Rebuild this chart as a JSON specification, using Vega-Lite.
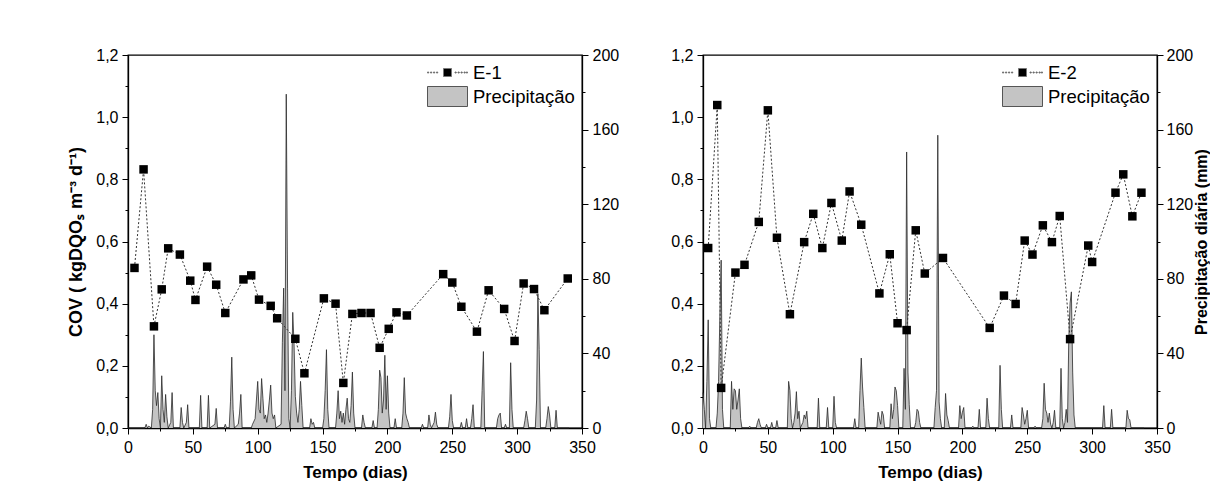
{
  "$schema": "https://vega.github.io/schema/vega-lite/v6.json",
  "background": "white",
  "padding": {"left": 67, "top": 46, "right": 0, "bottom": 0},
  "config": {
    "font": "Liberation Sans",
    "view": {"stroke": "black", "strokeWidth": 1.3},
    "axis": {"labelFont": "Liberation Sans", "labelFontSize": 16, "labelColor": "black", "titleFont": "Liberation Sans", "titleFontSize": 17, "titleFontWeight": "bold", "titleColor": "black", "domainColor": "black", "domainWidth": 1.3, "tickColor": "black", "tickWidth": 1, "grid": false, "labelOverlap": false, "labelFlush": false},
    "legend": {"labelFont": "Liberation Sans", "labelFontSize": 18.5, "labelColor": "black", "symbolSize": 400, "labelOffset": 25, "orient": "top-right", "offset": 7, "padding": 0, "rowPadding": 2, "symbolStrokeWidth": 1}
  },
  "datasets": {
    "covA": [
      {"day":5,"cov":0.515,"serie":"E-1"},{"day":12,"cov":0.832,"serie":"E-1"},{"day":20,"cov":0.327,"serie":"E-1"},{"day":26,"cov":0.446,"serie":"E-1"},{"day":31,"cov":0.578,"serie":"E-1"},{"day":40,"cov":0.558,"serie":"E-1"},{"day":48,"cov":0.474,"serie":"E-1"},{"day":52,"cov":0.412,"serie":"E-1"},{"day":61,"cov":0.519,"serie":"E-1"},{"day":68,"cov":0.461,"serie":"E-1"},{"day":75,"cov":0.370,"serie":"E-1"},{"day":89,"cov":0.478,"serie":"E-1"},{"day":95,"cov":0.491,"serie":"E-1"},{"day":101,"cov":0.413,"serie":"E-1"},{"day":110,"cov":0.393,"serie":"E-1"},{"day":115,"cov":0.353,"serie":"E-1"},{"day":129,"cov":0.287,"serie":"E-1"},{"day":136,"cov":0.176,"serie":"E-1"},{"day":151,"cov":0.417,"serie":"E-1"},{"day":160,"cov":0.400,"serie":"E-1"},{"day":166,"cov":0.145,"serie":"E-1"},{"day":173,"cov":0.367,"serie":"E-1"},{"day":180,"cov":0.370,"serie":"E-1"},{"day":187,"cov":0.370,"serie":"E-1"},{"day":194,"cov":0.258,"serie":"E-1"},{"day":201,"cov":0.319,"serie":"E-1"},{"day":207,"cov":0.372,"serie":"E-1"},{"day":215,"cov":0.362,"serie":"E-1"},{"day":243,"cov":0.495,"serie":"E-1"},{"day":250,"cov":0.468,"serie":"E-1"},{"day":257,"cov":0.390,"serie":"E-1"},{"day":269,"cov":0.310,"serie":"E-1"},{"day":278,"cov":0.443,"serie":"E-1"},{"day":290,"cov":0.383,"serie":"E-1"},{"day":298,"cov":0.280,"serie":"E-1"},{"day":305,"cov":0.465,"serie":"E-1"},{"day":313,"cov":0.447,"serie":"E-1"},{"day":321,"cov":0.379,"serie":"E-1"},{"day":339,"cov":0.481,"serie":"E-1"}
    ],
    "covB": [
      {"day":4,"cov":0.579,"serie":"E-2"},{"day":11,"cov":1.039,"serie":"E-2"},{"day":14,"cov":0.129,"serie":"E-2"},{"day":25,"cov":0.500,"serie":"E-2"},{"day":32,"cov":0.525,"serie":"E-2"},{"day":43,"cov":0.663,"serie":"E-2"},{"day":50,"cov":1.022,"serie":"E-2"},{"day":57,"cov":0.612,"serie":"E-2"},{"day":67,"cov":0.366,"serie":"E-2"},{"day":78,"cov":0.598,"serie":"E-2"},{"day":85,"cov":0.689,"serie":"E-2"},{"day":92,"cov":0.579,"serie":"E-2"},{"day":99,"cov":0.724,"serie":"E-2"},{"day":107,"cov":0.603,"serie":"E-2"},{"day":113,"cov":0.761,"serie":"E-2"},{"day":122,"cov":0.654,"serie":"E-2"},{"day":136,"cov":0.433,"serie":"E-2"},{"day":144,"cov":0.559,"serie":"E-2"},{"day":150,"cov":0.337,"serie":"E-2"},{"day":157,"cov":0.315,"serie":"E-2"},{"day":164,"cov":0.636,"serie":"E-2"},{"day":171,"cov":0.497,"serie":"E-2"},{"day":185,"cov":0.547,"serie":"E-2"},{"day":221,"cov":0.322,"serie":"E-2"},{"day":232,"cov":0.426,"serie":"E-2"},{"day":241,"cov":0.399,"serie":"E-2"},{"day":248,"cov":0.603,"serie":"E-2"},{"day":254,"cov":0.558,"serie":"E-2"},{"day":262,"cov":0.652,"serie":"E-2"},{"day":269,"cov":0.598,"serie":"E-2"},{"day":275,"cov":0.682,"serie":"E-2"},{"day":283,"cov":0.286,"serie":"E-2"},{"day":297,"cov":0.587,"serie":"E-2"},{"day":300,"cov":0.534,"serie":"E-2"},{"day":318,"cov":0.757,"serie":"E-2"},{"day":324,"cov":0.816,"serie":"E-2"},{"day":331,"cov":0.681,"serie":"E-2"},{"day":338,"cov":0.757,"serie":"E-2"}
    ],
    "precA": [
      {"day":0,"mm":0},{"day":13,"mm":0},{"day":14,"mm":2},{"day":15,"mm":0},{"day":16,"mm":1},{"day":18,"mm":0},{"day":19,"mm":10},{"day":20,"mm":50},{"day":21,"mm":20},{"day":22,"mm":12},{"day":23,"mm":19},{"day":24,"mm":5},{"day":25,"mm":0},{"day":26,"mm":28},{"day":27,"mm":10},{"day":28,"mm":3},{"day":29,"mm":18},{"day":30,"mm":6},{"day":31,"mm":0},{"day":33,"mm":3},{"day":34,"mm":19},{"day":35,"mm":0},{"day":40,"mm":0},{"day":41,"mm":11},{"day":42,"mm":3},{"day":43,"mm":0},{"day":45,"mm":3},{"day":46,"mm":12.5},{"day":47,"mm":0},{"day":55,"mm":0},{"day":56,"mm":17.5},{"day":57,"mm":0},{"day":61,"mm":0},{"day":62,"mm":17.5},{"day":63,"mm":0},{"day":67,"mm":2},{"day":68,"mm":10.5},{"day":69,"mm":0},{"day":74,"mm":0},{"day":75,"mm":2},{"day":76,"mm":0},{"day":78,"mm":0},{"day":79,"mm":14},{"day":80,"mm":38},{"day":81,"mm":10},{"day":82,"mm":0},{"day":85,"mm":2},{"day":86,"mm":8},{"day":87,"mm":18},{"day":88,"mm":0},{"day":95,"mm":0},{"day":96,"mm":2},{"day":98,"mm":5},{"day":99,"mm":15},{"day":100,"mm":25},{"day":101,"mm":10},{"day":102,"mm":8},{"day":103,"mm":26.5},{"day":104,"mm":16},{"day":105,"mm":5},{"day":106,"mm":7},{"day":107,"mm":3},{"day":108,"mm":8},{"day":109,"mm":15},{"day":110,"mm":23},{"day":111,"mm":8},{"day":112,"mm":5},{"day":113,"mm":7},{"day":114,"mm":0},{"day":118,"mm":2},{"day":119,"mm":46},{"day":120,"mm":75},{"day":121,"mm":20},{"day":122,"mm":179},{"day":123,"mm":75},{"day":124,"mm":5},{"day":125,"mm":0},{"day":126,"mm":20},{"day":127,"mm":62},{"day":128,"mm":45},{"day":129,"mm":17},{"day":130,"mm":8},{"day":131,"mm":3},{"day":132,"mm":10},{"day":133,"mm":25},{"day":134,"mm":12},{"day":135,"mm":0},{"day":140,"mm":0},{"day":141,"mm":5},{"day":142,"mm":2},{"day":143,"mm":3},{"day":144,"mm":0},{"day":150,"mm":0},{"day":151,"mm":5},{"day":152,"mm":20},{"day":153,"mm":42},{"day":154,"mm":10},{"day":155,"mm":0},{"day":160,"mm":0},{"day":161,"mm":8},{"day":162,"mm":20},{"day":163,"mm":5},{"day":164,"mm":9},{"day":165,"mm":3},{"day":166,"mm":8},{"day":167,"mm":2},{"day":168,"mm":10},{"day":169,"mm":16},{"day":170,"mm":5},{"day":171,"mm":3},{"day":172,"mm":12},{"day":173,"mm":30},{"day":174,"mm":8},{"day":175,"mm":0},{"day":180,"mm":0},{"day":181,"mm":7},{"day":182,"mm":3},{"day":183,"mm":0},{"day":188,"mm":0},{"day":189,"mm":4},{"day":190,"mm":0},{"day":192,"mm":0},{"day":193,"mm":10},{"day":194,"mm":31},{"day":195,"mm":27},{"day":196,"mm":8},{"day":197,"mm":15},{"day":198,"mm":39},{"day":199,"mm":10},{"day":200,"mm":28},{"day":201,"mm":8},{"day":202,"mm":0},{"day":205,"mm":0},{"day":206,"mm":5},{"day":207,"mm":0},{"day":211,"mm":0},{"day":212,"mm":8},{"day":213,"mm":27},{"day":214,"mm":8},{"day":215,"mm":5},{"day":216,"mm":3},{"day":217,"mm":0},{"day":226,"mm":0},{"day":227,"mm":2},{"day":228,"mm":0},{"day":231,"mm":0},{"day":232,"mm":7},{"day":233,"mm":2},{"day":234,"mm":0},{"day":236,"mm":3},{"day":237,"mm":8.5},{"day":238,"mm":2},{"day":239,"mm":0},{"day":247,"mm":0},{"day":248,"mm":6},{"day":249,"mm":18},{"day":250,"mm":4},{"day":251,"mm":0},{"day":256,"mm":0},{"day":257,"mm":3},{"day":258,"mm":0},{"day":260,"mm":0},{"day":261,"mm":5},{"day":262,"mm":0},{"day":264,"mm":0},{"day":265,"mm":5},{"day":266,"mm":12.5},{"day":267,"mm":0},{"day":272,"mm":0},{"day":273,"mm":20},{"day":274,"mm":41},{"day":275,"mm":0},{"day":284,"mm":0},{"day":285,"mm":5},{"day":286,"mm":7},{"day":287,"mm":8},{"day":288,"mm":0},{"day":290,"mm":0},{"day":291,"mm":2},{"day":292,"mm":0},{"day":294,"mm":0},{"day":295,"mm":35},{"day":296,"mm":10},{"day":297,"mm":0},{"day":305,"mm":0},{"day":306,"mm":4},{"day":307,"mm":9},{"day":308,"mm":5},{"day":309,"mm":0},{"day":314,"mm":0},{"day":315,"mm":15},{"day":316,"mm":72},{"day":317,"mm":42},{"day":318,"mm":0},{"day":322,"mm":0},{"day":323,"mm":5},{"day":324,"mm":11.5},{"day":325,"mm":7},{"day":326,"mm":0},{"day":329,"mm":0},{"day":330,"mm":9.5},{"day":331,"mm":0},{"day":340,"mm":0}
    ],
    "precB": [
      {"day":0,"mm":19},{"day":1,"mm":10},{"day":2,"mm":0},{"day":3,"mm":25},{"day":4,"mm":58},{"day":5,"mm":5},{"day":6,"mm":0},{"day":10,"mm":0},{"day":11,"mm":8},{"day":12,"mm":25},{"day":13,"mm":60},{"day":14,"mm":90},{"day":15,"mm":10},{"day":16,"mm":0},{"day":21,"mm":0},{"day":22,"mm":25},{"day":23,"mm":10},{"day":24,"mm":21},{"day":25,"mm":20},{"day":26,"mm":10},{"day":27,"mm":15},{"day":28,"mm":21},{"day":29,"mm":5},{"day":30,"mm":0},{"day":35,"mm":0},{"day":36,"mm":1},{"day":37,"mm":0},{"day":41,"mm":0},{"day":42,"mm":3},{"day":43,"mm":5},{"day":44,"mm":2},{"day":45,"mm":0},{"day":48,"mm":0},{"day":49,"mm":2},{"day":50,"mm":0},{"day":52,"mm":0},{"day":53,"mm":3},{"day":54,"mm":0},{"day":56,"mm":0},{"day":57,"mm":4},{"day":58,"mm":0},{"day":65,"mm":0},{"day":66,"mm":25},{"day":67,"mm":20},{"day":68,"mm":5},{"day":69,"mm":0},{"day":70,"mm":3},{"day":71,"mm":8},{"day":72,"mm":19.5},{"day":73,"mm":5},{"day":74,"mm":9},{"day":75,"mm":0},{"day":77,"mm":3},{"day":78,"mm":7},{"day":79,"mm":5},{"day":80,"mm":9},{"day":81,"mm":0},{"day":88,"mm":0},{"day":89,"mm":16},{"day":90,"mm":0},{"day":95,"mm":0},{"day":96,"mm":11},{"day":97,"mm":0},{"day":100,"mm":0},{"day":101,"mm":17},{"day":102,"mm":3},{"day":103,"mm":0},{"day":116,"mm":0},{"day":117,"mm":5},{"day":118,"mm":0},{"day":120,"mm":0},{"day":121,"mm":20},{"day":122,"mm":37.5},{"day":123,"mm":22},{"day":124,"mm":11},{"day":125,"mm":0},{"day":134,"mm":0},{"day":135,"mm":8.5},{"day":136,"mm":5},{"day":137,"mm":2},{"day":138,"mm":9},{"day":139,"mm":7},{"day":140,"mm":0},{"day":144,"mm":0},{"day":145,"mm":13},{"day":146,"mm":5},{"day":147,"mm":10},{"day":148,"mm":22},{"day":149,"mm":20},{"day":150,"mm":12},{"day":151,"mm":0},{"day":154,"mm":0},{"day":155,"mm":32},{"day":156,"mm":10},{"day":157,"mm":148},{"day":158,"mm":30},{"day":159,"mm":12.5},{"day":160,"mm":0},{"day":163,"mm":0},{"day":164,"mm":3},{"day":165,"mm":10},{"day":166,"mm":9},{"day":167,"mm":3},{"day":168,"mm":0},{"day":178,"mm":0},{"day":179,"mm":11},{"day":180,"mm":20},{"day":181,"mm":157},{"day":182,"mm":14},{"day":183,"mm":5},{"day":184,"mm":0},{"day":186,"mm":0},{"day":187,"mm":18.5},{"day":188,"mm":7},{"day":189,"mm":4},{"day":190,"mm":0},{"day":197,"mm":0},{"day":198,"mm":12},{"day":199,"mm":5},{"day":200,"mm":8.5},{"day":201,"mm":11},{"day":202,"mm":0},{"day":207,"mm":0},{"day":208,"mm":1},{"day":209,"mm":0},{"day":212,"mm":0},{"day":213,"mm":10},{"day":214,"mm":0},{"day":218,"mm":0},{"day":219,"mm":16},{"day":220,"mm":5},{"day":221,"mm":0},{"day":228,"mm":0},{"day":229,"mm":33.6},{"day":230,"mm":10},{"day":231,"mm":0},{"day":237,"mm":0},{"day":238,"mm":7},{"day":239,"mm":0},{"day":245,"mm":0},{"day":246,"mm":11},{"day":247,"mm":7},{"day":248,"mm":2},{"day":249,"mm":5},{"day":250,"mm":9.5},{"day":251,"mm":0},{"day":255,"mm":0},{"day":256,"mm":1},{"day":257,"mm":0},{"day":261,"mm":0},{"day":262,"mm":5},{"day":263,"mm":24},{"day":264,"mm":10},{"day":265,"mm":8},{"day":266,"mm":3},{"day":267,"mm":8},{"day":268,"mm":2},{"day":269,"mm":0},{"day":270,"mm":3},{"day":271,"mm":9.5},{"day":272,"mm":0},{"day":275,"mm":0},{"day":276,"mm":32},{"day":277,"mm":5},{"day":278,"mm":0},{"day":279,"mm":3},{"day":280,"mm":10},{"day":281,"mm":3},{"day":282,"mm":48},{"day":283,"mm":67},{"day":284,"mm":73},{"day":285,"mm":30},{"day":286,"mm":7},{"day":287,"mm":0},{"day":308,"mm":0},{"day":309,"mm":12},{"day":310,"mm":0},{"day":314,"mm":0},{"day":315,"mm":10},{"day":316,"mm":0},{"day":326,"mm":0},{"day":327,"mm":9.5},{"day":328,"mm":5},{"day":329,"mm":4.5},{"day":330,"mm":0},{"day":340,"mm":0}
    ]
  },
  "hconcat": [
    {
      "width": 454, "height": 373,
      "encoding": {"x": {"field": "day", "type": "quantitative", "scale": {"domain": [0, 350], "nice": false}, "axis": {"title": "Tempo (dias)", "values": [0,25,50,75,100,125,150,175,200,225,250,275,300,325,350], "labelExpr": "datum.value % 50 === 0 ? datum.label : ''", "tickSize": {"condition": {"test": "datum.value % 50 === 0", "value": 6}, "value": 3}, "labelPadding": 5, "titlePadding": 9}}},
      "layer": [
        {"data": {"name": "precA"}, "mark": {"type": "area", "color": "#c4c4c4", "opacity": 1},
         "encoding": {"y": {"field": "mm", "type": "quantitative", "scale": {"domain": [0, 200], "nice": false}, "axis": {"orient": "right", "title": null, "values": [0,20,40,60,80,100,120,140,160,180,200], "labelExpr": "datum.value % 40 === 0 ? datum.label : ''", "tickSize": {"condition": {"test": "datum.value % 40 === 0", "value": 6}, "value": 3}, "labelPadding": 4}}}},
        {"data": {"name": "precA"}, "mark": {"type": "line", "color": "#2a2a2a", "strokeWidth": 0.8},
         "encoding": {"y": {"field": "mm", "type": "quantitative", "scale": {"domain": [0, 200], "nice": false}, "axis": null}}},
        {"data": {"name": "covA"}, "mark": {"type": "line", "color": "#333", "strokeDash": [2, 2], "strokeWidth": 1},
         "encoding": {"y": {"field": "cov", "type": "quantitative", "scale": {"domain": [0, 1.2], "nice": false}, "axis": {"orient": "left", "title": "COV ( kgDQOₛ m⁻³ d⁻¹)", "titleFontSize": 18, "values": [0,0.1,0.2,0.3,0.4,0.5,0.6,0.7,0.8,0.9,1.0,1.1,1.2], "labelExpr": "round(datum.value*10) % 2 === 0 ? replace(format(datum.value,'.1f'),'.',',') : ''", "tickSize": {"condition": {"test": "round(datum.value*10) % 2 === 0", "value": 6}, "value": 3}, "labelPadding": 4, "titlePadding": 10}}}},
        {"data": {"name": "covA"}, "mark": {"type": "point", "shape": "square", "filled": true, "color": "black", "size": 72, "opacity": 1},
         "encoding": {"y": {"field": "cov", "type": "quantitative", "scale": {"domain": [0, 1.2], "nice": false}, "axis": null}}},
        {"data": {"name": "covA"}, "mark": {"type": "point", "filled": true, "size": 0, "strokeWidth": 0, "opacity": 1},
         "encoding": {
           "y": {"field": "cov", "type": "quantitative", "scale": {"domain": [0, 1.2], "nice": false}, "axis": null},
           "fill": {"field": "serie", "type": "nominal", "scale": {"domain": ["E-1", "Precipitação"], "range": ["black", "#c4c4c4"]}, "legend": {"title": null}},
           "stroke": {"field": "serie", "type": "nominal", "scale": {"domain": ["E-1", "Precipitação"], "range": ["#777", "#555"]}, "legend": {"title": null}},
           "shape": {"field": "serie", "type": "nominal", "scale": {"domain": ["E-1", "Precipitação"], "range": ["M-1,-0.05h0.12v0.1h-0.12Z M-0.7,-0.05h0.12v0.1h-0.12Z M-0.4,-0.05h0.12v0.1h-0.12Z M-0.1,-0.05h0.12v0.1h-0.12Z M0.6,-0.4H1.4V0.4H0.6Z M1.75,-0.05h0.12v0.1h-0.12Z M2.05,-0.05h0.12v0.1h-0.12Z M2.35,-0.05h0.12v0.1h-0.12Z M2.65,-0.05h0.12v0.1h-0.12Z M2.88,-0.05h0.12v0.1h-0.12Z", "M-1,-1H3V1H-1Z"]}, "legend": {"title": null}}
         }},
        {"data": {"values": [{"t": "a"}]}, "mark": {"type": "text", "fontWeight": "bold", "fontSize": 17, "align": "left", "baseline": "middle", "color": "black"},
         "encoding": {"x": {"datum": 3.5, "type": "quantitative"}, "y": {"datum": 1.168, "type": "quantitative", "scale": {"domain": [0, 1.2], "nice": false}, "axis": null}, "text": {"field": "t"}}}
      ],
      "resolve": {"scale": {"y": "independent"}}
    },
    {
      "width": 454, "height": 373,
      "encoding": {"x": {"field": "day", "type": "quantitative", "scale": {"domain": [0, 350], "nice": false}, "axis": {"title": "Tempo (dias)", "values": [0,25,50,75,100,125,150,175,200,225,250,275,300,325,350], "labelExpr": "datum.value % 50 === 0 ? datum.label : ''", "tickSize": {"condition": {"test": "datum.value % 50 === 0", "value": 6}, "value": 3}, "labelPadding": 5, "titlePadding": 9}}},
      "layer": [
        {"data": {"name": "precB"}, "mark": {"type": "area", "color": "#c4c4c4", "opacity": 1},
         "encoding": {"y": {"field": "mm", "type": "quantitative", "scale": {"domain": [0, 200], "nice": false}, "axis": {"orient": "right", "title": "Precipitação diária (mm)", "titleAngle": 270, "titleBaseline": "top", "titleFontSize": 16, "titlePadding": 1, "values": [0,20,40,60,80,100,120,140,160,180,200], "labelExpr": "datum.value % 40 === 0 ? datum.label : ''", "tickSize": {"condition": {"test": "datum.value % 40 === 0", "value": 6}, "value": 3}, "labelPadding": 3}}}},
        {"data": {"name": "precB"}, "mark": {"type": "line", "color": "#2a2a2a", "strokeWidth": 0.8},
         "encoding": {"y": {"field": "mm", "type": "quantitative", "scale": {"domain": [0, 200], "nice": false}, "axis": null}}},
        {"data": {"name": "covB"}, "mark": {"type": "line", "color": "#333", "strokeDash": [2, 2], "strokeWidth": 1},
         "encoding": {"y": {"field": "cov", "type": "quantitative", "scale": {"domain": [0, 1.2], "nice": false}, "axis": {"orient": "left", "title": null, "values": [0,0.1,0.2,0.3,0.4,0.5,0.6,0.7,0.8,0.9,1.0,1.1,1.2], "labelExpr": "round(datum.value*10) % 2 === 0 ? replace(format(datum.value,'.1f'),'.',',') : ''", "tickSize": {"condition": {"test": "round(datum.value*10) % 2 === 0", "value": 6}, "value": 3}, "labelPadding": 4}}}},
        {"data": {"name": "covB"}, "mark": {"type": "point", "shape": "square", "filled": true, "color": "black", "size": 72, "opacity": 1},
         "encoding": {"y": {"field": "cov", "type": "quantitative", "scale": {"domain": [0, 1.2], "nice": false}, "axis": null}}},
        {"data": {"name": "covB"}, "mark": {"type": "point", "filled": true, "size": 0, "strokeWidth": 0, "opacity": 1},
         "encoding": {
           "y": {"field": "cov", "type": "quantitative", "scale": {"domain": [0, 1.2], "nice": false}, "axis": null},
           "fill": {"field": "serie", "type": "nominal", "scale": {"domain": ["E-2", "Precipitação"], "range": ["black", "#c4c4c4"]}, "legend": {"title": null}},
           "stroke": {"field": "serie", "type": "nominal", "scale": {"domain": ["E-2", "Precipitação"], "range": ["#777", "#555"]}, "legend": {"title": null}},
           "shape": {"field": "serie", "type": "nominal", "scale": {"domain": ["E-2", "Precipitação"], "range": ["M-1,-0.05h0.12v0.1h-0.12Z M-0.7,-0.05h0.12v0.1h-0.12Z M-0.4,-0.05h0.12v0.1h-0.12Z M-0.1,-0.05h0.12v0.1h-0.12Z M0.6,-0.4H1.4V0.4H0.6Z M1.75,-0.05h0.12v0.1h-0.12Z M2.05,-0.05h0.12v0.1h-0.12Z M2.35,-0.05h0.12v0.1h-0.12Z M2.65,-0.05h0.12v0.1h-0.12Z M2.88,-0.05h0.12v0.1h-0.12Z", "M-1,-1H3V1H-1Z"]}, "legend": {"title": null}}
         }},
        {"data": {"values": [{"t": "b"}]}, "mark": {"type": "text", "fontWeight": "bold", "fontSize": 17, "align": "left", "baseline": "middle", "color": "black"},
         "encoding": {"x": {"datum": 3.5, "type": "quantitative"}, "y": {"datum": 1.168, "type": "quantitative", "scale": {"domain": [0, 1.2], "nice": false}, "axis": null}, "text": {"field": "t"}}}
      ],
      "resolve": {"scale": {"y": "independent"}}
    }
  ],
  "spacing": 50,
  "resolve": {"scale": {"x": "independent", "y": "independent", "fill": "independent", "stroke": "independent", "shape": "independent"}, "legend": {"fill": "independent", "stroke": "independent", "shape": "independent"}}
}
